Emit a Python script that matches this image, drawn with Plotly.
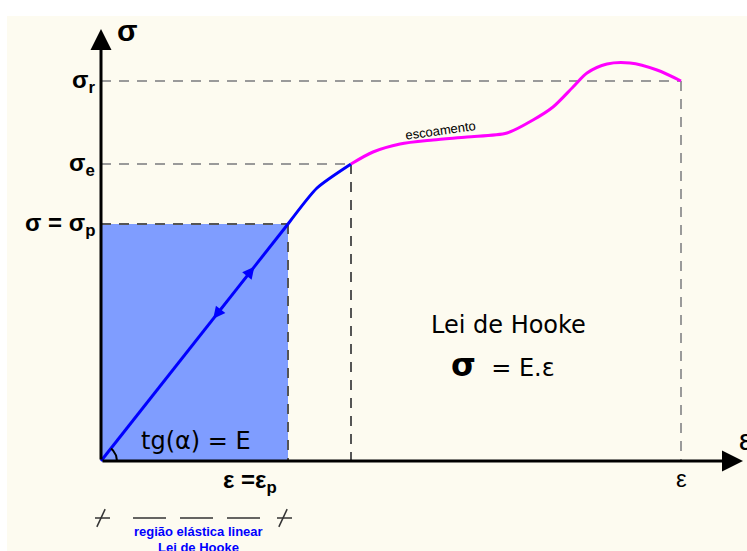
import numpy as np
import plotly.graph_objects as go

# ---- data (arbitrary units: strain ε on x, stress σ on y) ----
eps_p, sig_p = 187, 237      # proportional limit
eps_e, sig_e = 250, 297      # yield (escoamento)
eps_r, sig_r = 580, 380      # rupture

elastic_eps = [0, eps_p]
elastic_sig = [0, sig_p]
trans_eps = [eps_p, 216, eps_e]
trans_sig = [sig_p, 273, sig_e]
plastic_eps = [eps_e, 272, 299, 332, 366, 406, 432, 452, 472, 486, 506, 529, 556, eps_r]
plastic_sig = [sig_e, 309, 317, 321, 324, 328, 341, 354, 374, 388, 397, 398, 391, sig_r]

y_labels = ["σ<sub>r</sub>", "σ<sub>e</sub>", "σ = σ<sub>p</sub>"]
y_label_vals = [sig_r, sig_e, sig_p]

BLUE = "#0000ff"
FILL = "#7f9dff"
MAG = "#ff00ff"
CREAM = "#fdfbf0"
GRAY = "#9a9a9a"
DARK = "#555555"

fig = go.Figure()

# elastic region fill
fig.add_trace(go.Scatter(x=[0, eps_p, eps_p, 0, 0], y=[0, 0, sig_p, sig_p, 0],
                         fill="toself", fillcolor=FILL, mode="none",
                         hoverinfo="skip", showlegend=False))

# reference dashed lines
def dline(x0, y0, x1, y1, color):
    fig.add_trace(go.Scatter(x=[x0, x1], y=[y0, y1], mode="lines",
                             line=dict(color=color, width=2, dash="10px,8px"),
                             hoverinfo="skip", showlegend=False))

dline(0, sig_r, eps_r, sig_r, GRAY)
dline(eps_r, sig_r, eps_r, 0, GRAY)
dline(0, sig_e, eps_e, sig_e, GRAY)
dline(eps_e, sig_e, eps_e, 0, DARK)
dline(0, sig_p, eps_p, sig_p, DARK)
dline(eps_p, sig_p, eps_p, 0, DARK)

# curves
fig.add_trace(go.Scatter(x=elastic_eps, y=elastic_sig, mode="lines",
                         line=dict(color=BLUE, width=3), showlegend=False))
fig.add_trace(go.Scatter(x=trans_eps, y=trans_sig, mode="lines",
                         line=dict(color=BLUE, width=3, shape="spline", smoothing=0.6),
                         showlegend=False))
fig.add_trace(go.Scatter(x=plastic_eps, y=plastic_sig, mode="lines",
                         line=dict(color=MAG, width=3, shape="spline", smoothing=0.8),
                         showlegend=False))

# angle arc at origin
ang = np.arctan2(sig_p, eps_p)
t = np.linspace(0, ang, 20)
fig.add_trace(go.Scatter(x=16 * np.cos(t), y=16 * np.sin(t), mode="lines",
                         line=dict(color="black", width=2), showlegend=False))

# axes (arrows)
fig.add_annotation(x=0, y=432, ax=0, ay=0, xref="x", yref="y", axref="x", ayref="y",
                   showarrow=True, arrowhead=2, arrowsize=1.4, arrowwidth=3,
                   arrowcolor="black", text="")
fig.add_annotation(x=642, y=0, ax=0, ay=0, xref="x", yref="y", axref="x", ayref="y",
                   showarrow=True, arrowhead=2, arrowsize=1.4, arrowwidth=3,
                   arrowcolor="black", text="")

# arrows on elastic line
for f0, f1 in [(0.74, 0.82), (0.68, 0.60)]:
    fig.add_annotation(x=eps_p * f1, y=sig_p * f1, ax=eps_p * f0, ay=sig_p * f0,
                       xref="x", yref="y", axref="x", ayref="y",
                       showarrow=True, arrowhead=2, arrowsize=1.2, arrowwidth=2,
                       arrowcolor=BLUE, text="")

BF = "Liberation Sans"
# y labels
for lab, v in zip(y_labels, y_label_vals):
    fig.add_annotation(x=-4, y=v, xref="x", yref="y", text="<b>" + lab + "</b>",
                       showarrow=False, xanchor="right", yanchor="middle",
                       font=dict(family=BF, size=24, color="black"))
fig.add_annotation(x=14, y=431, xref="x", yref="y", text="<b>σ</b>", showarrow=False,
                   xanchor="left", yanchor="middle", font=dict(family=BF, size=30, color="black"))
fig.add_annotation(x=eps_p - 38, y=-20, xref="x", yref="y",
                   text="<b>ε =ε<sub>p</sub></b>", showarrow=False,
                   xanchor="center", yanchor="middle", font=dict(family=BF, size=24, color="black"))
fig.add_annotation(x=eps_r, y=-17, xref="x", yref="y", text="ε", showarrow=False,
                   xanchor="center", yanchor="middle", font=dict(family=BF, size=24, color="black"))
fig.add_annotation(x=636, y=22, xref="x", yref="y", text="ε", showarrow=False,
                   xanchor="left", yanchor="middle", font=dict(family=BF, size=30, color="black"))

# texts in chart
fig.add_annotation(x=95, y=20, xref="x", yref="y", text="tg(α) = E", showarrow=False,
                   xanchor="center", yanchor="middle",
                   font=dict(family="DejaVu Sans", size=24, color="black"))
fig.add_annotation(x=407, y=136, xref="x", yref="y", text="Lei de Hooke", showarrow=False,
                   xanchor="center", yanchor="middle",
                   font=dict(family="DejaVu Sans", size=24, color="black"))
fig.add_annotation(x=402, y=96, xref="x", yref="y",
                   text="<b><span style='font-size:32px'>σ</span></b>  = E.ε",
                   showarrow=False, xanchor="center", yanchor="middle",
                   font=dict(family="DejaVu Sans", size=24, color="black"))
fig.add_annotation(x=339, y=331, xref="x", yref="y", text="escoamento", showarrow=False,
                   textangle=-8, xanchor="center", yanchor="middle",
                   font=dict(family=BF, size=13, color="black"))

# bottom dimension marker
dim_y = -57
fig.add_trace(go.Scatter(x=[32, 162], y=[dim_y, dim_y], mode="lines",
                         line=dict(color="#333333", width=1.5, dash="33px,14px"),
                         showlegend=False))
for xm in [0, eps_p - 5]:
    fig.add_trace(go.Scatter(x=[xm - 6, xm + 9], y=[dim_y, dim_y], mode="lines",
                             line=dict(color="#333333", width=1.5), showlegend=False))
fig.add_trace(go.Scatter(x=[0, eps_p - 5], y=[dim_y, dim_y], mode="markers",
                         marker=dict(symbol="line-ns", size=14, angle=25,
                                     line=dict(color="#333333", width=1.5)),
                         showlegend=False))
fig.add_annotation(x=97, y=-70, xref="x", yref="y", text="<b>região elástica linear</b>",
                   showarrow=False, xanchor="center", yanchor="middle",
                   font=dict(family=BF, size=13, color=BLUE))
fig.add_annotation(x=97, y=-86, xref="x", yref="y", text="<b>Lei de Hooke</b>",
                   showarrow=False, xanchor="center", yanchor="middle",
                   font=dict(family=BF, size=13, color=BLUE))

fig.update_layout(
    width=747, height=551, autosize=False,
    margin=dict(l=0, r=0, t=0, b=0),
    paper_bgcolor="white", plot_bgcolor="rgba(0,0,0,0)",
    xaxis=dict(range=[-101, 646], visible=False, fixedrange=True),
    yaxis=dict(range=[-90, 461], visible=False, fixedrange=True),
    shapes=[dict(type="rect", xref="paper", yref="paper", x0=7 / 747, x1=1,
                 y0=0, y1=1 - 16 / 551, fillcolor=CREAM, line=dict(width=0), layer="below")],
    showlegend=False,
)

fig.write_html("out.html", config={"displayModeBar": False, "staticPlot": True},
               post_script="document.body.style.margin='0';")
